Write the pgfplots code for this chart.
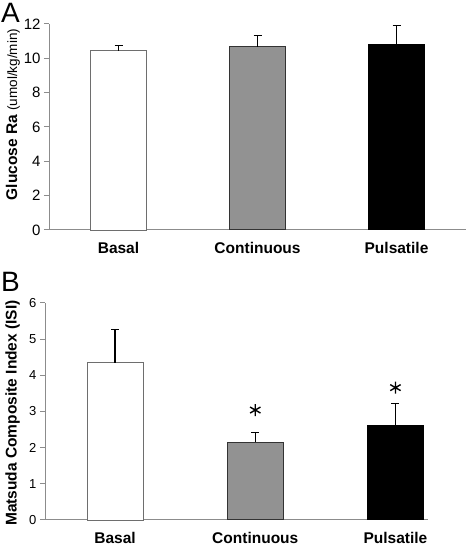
\documentclass[border=0pt]{standalone}
\usepackage{pgfplots}
\pgfplotsset{compat=1.18}
\usepackage{fontspec}
\setmainfont{Liberation Sans}
\definecolor{axgray}{HTML}{8C8C8C}
\definecolor{bargray}{HTML}{929292}
\definecolor{edgegray}{HTML}{6E6E6E}

\begin{document}
\begin{tikzpicture}
\useasboundingbox (0pt,0pt) rectangle (466pt,548pt);
\pgfplotsset{
  mystyle/.style={
    scale only axis,
    anchor=south west,
    axis x line*=bottom, axis y line*=left,
    axis line style={axgray, line width=1pt},
    xmin=-0.5,
    xtick={0,1,2}, xticklabels={Basal,Continuous,Pulsatile},
    x tick label style={font=\fontsize{15.5}{18}\selectfont\bfseries, yshift=-4pt},
    xtick style={draw=none},
    ymin=0,
    ytick style={axgray, line width=1pt},
    tick align=outside,
    major tick length=5pt,
    /pgf/number format/assume math mode=true,
    bar width=56pt, bar shift=0pt,
    error bars/y dir=plus, error bars/y explicit,
    error bars/error bar style={black, line width=1.2pt},
    error bars/error mark options={rotate=90, mark size=4pt, black, line width=1pt},
    clip=false,
  }
}

\begin{axis}[mystyle,
  at={(49pt,318pt)}, width=417pt, height=206pt,
  xmax=2.5, ymax=12, ytick={0,2,...,12},
  y tick label style={font=\fontsize{15}{18}\selectfont},
  ylabel={\fontsize{15.5}{18}\selectfont\bfseries Glucose Ra \fontsize{13.5}{16}\selectfont\mdseries(umol/kg/min)},
  every axis y label/.style={at={(axis description cs:-0.0863,0.561)}, anchor=center, rotate=90},
]
\addplot[ybar, fill=white, draw=edgegray, line width=0.9pt] coordinates {(0,10.45) +- (0,0.27)};
\addplot[ybar, fill=bargray, draw=black!80, line width=1pt] coordinates {(1,10.68) +- (0,0.64)};
\addplot[ybar, fill=black, draw=black, line width=1pt] coordinates {(2,10.79) +- (0,1.11)};
\end{axis}

\begin{axis}[mystyle,
  at={(45pt,28pt)}, width=382.7pt, height=217pt,
  xmax=2.23, ymax=6, ytick={0,1,...,6},
  y tick label style={font=\fontsize{13}{16}\selectfont},
  ylabel={\fontsize{15.5}{18}\selectfont\bfseries Matsuda Composite Index (ISI)},
  every axis y label/.style={at={(axis description cs:-0.0849,0.493)}, anchor=center, rotate=90},
]
\addplot[ybar, fill=white, draw=edgegray, line width=0.9pt] coordinates {(0,4.35) +- (0,0.92)};
\addplot[ybar, fill=bargray, draw=black!80, line width=1pt] coordinates {(1,2.15) +- (0,0.28)};
\addplot[ybar, fill=black, draw=black, line width=1pt] coordinates {(2,2.62) +- (0,0.60)};
\addplot[only marks, mark=asterisk, mark size=6pt, mark options={line width=1.4pt, black}] coordinates {(1,3.04) (2,3.66)};
\end{axis}

\node[anchor=base west, inner sep=0pt, font=\fontsize{28}{30}\selectfont] at (1pt,525pt) {A};
\node[anchor=base west, inner sep=0pt, font=\fontsize{28}{30}\selectfont] at (1pt,256pt) {B};
\end{tikzpicture}
\end{document}
